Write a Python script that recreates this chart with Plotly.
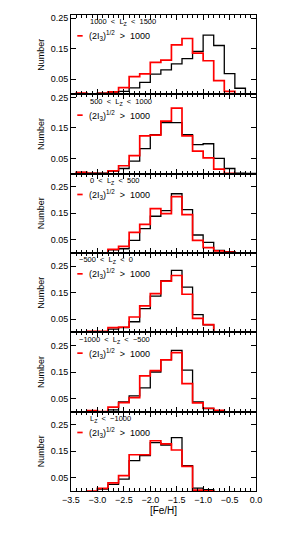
import plotly.graph_objects as go
from plotly.subplots import make_subplots

# [Fe/H] bin centres (bin width 0.2 dex)
feh_centers = [-3.3, -3.1, -2.9, -2.7, -2.5, -2.3, -2.1, -1.9, -1.7, -1.5,
               -1.3, -1.1, -0.9, -0.7, -0.5, -0.3, -0.1]
bin_width = 0.2

panel_labels = [
    "1000\u00a0\u00a0<\u00a0\u00a0L<sub>Z</sub>\u00a0\u00a0<\u00a0\u00a01500",
    "500\u00a0\u00a0<\u00a0\u00a0L<sub>Z</sub>\u00a0\u00a0<\u00a0\u00a01000",
    "0\u00a0\u00a0<\u00a0\u00a0L<sub>Z</sub>\u00a0\u00a0<\u00a0\u00a0500",
    "\u2212500\u00a0\u00a0<\u00a0\u00a0L<sub>Z</sub>\u00a0\u00a0<\u00a0\u00a00",
    "\u22121000\u00a0\u00a0<\u00a0\u00a0L<sub>Z</sub>\u00a0\u00a0<\u00a0\u00a0\u2212500",
    "L<sub>Z</sub>\u00a0\u00a0<\u00a0\u00a0\u22121000",
]
red_label = "(2I<sub>3</sub>)<sup>1/2</sup>\u00a0\u00a0>\u00a0\u00a01000"

N = None
# black: all stars in the L_Z bin ; red: (2I3)^1/2 > 1000
black_1 = [N, N, 0.004, 0.007, 0.010, 0.021, 0.039, 0.066, 0.080, 0.100,
           0.117, 0.141, 0.194, 0.160, 0.068, 0.020, N]
red_1 = [0.004, 0.0, 0.003, 0.008, 0.022, 0.058, 0.067, 0.105, 0.112, 0.162,
         0.183, 0.135, 0.110, 0.045, 0.010, N, N]

black_2 = [0.004, 0.002, 0.002, 0.008, 0.017, 0.041, 0.082, 0.128, 0.167, 0.167,
           0.128, 0.095, 0.098, 0.050, 0.017, 0.002, 0.001]
red_2 = [0.004, 0.001, 0.0, 0.009, 0.026, 0.059, 0.124, 0.126, 0.172, 0.215,
         0.124, 0.074, 0.052, 0.015, 0.001, N, N]

black_3 = [N, N, N, 0.012, 0.016, 0.048, 0.092, 0.139, 0.160, 0.224,
           0.164, 0.068, 0.040, 0.010, 0.005, N, N]
red_3 = [N, N, N, 0.014, 0.025, 0.078, 0.108, 0.168, 0.149, 0.213,
         0.145, 0.048, 0.020, 0.008, 0.003, N, N]

black_4 = [0.002, 0.002, 0.003, 0.012, 0.018, 0.040, 0.090, 0.137, 0.195, 0.234,
           0.171, 0.067, 0.028, 0.003, 0.002, 0.002, N]
red_4 = [0.001, 0.004, 0.004, 0.018, 0.020, 0.058, 0.100, 0.146, 0.194, 0.215,
         0.144, 0.053, 0.029, 0.001, 0.002, 0.002, N]

black_5 = [N, N, N, 0.007, 0.037, 0.060, 0.090, 0.150, 0.197, 0.232,
           0.157, 0.037, 0.012, N, N, N, N]
red_5 = [N, 0.004, 0.0, 0.017, 0.034, 0.053, 0.135, 0.155, 0.196, 0.223,
         0.106, 0.033, 0.013, 0.005, N, N, N]

black_6 = [N, N, 0.0075, 0.025, 0.045, 0.115, 0.134, 0.183, 0.174, 0.202,
           0.096, 0.011, 0.005, N, N, N, N]
red_6 = [N, 0.0, 0.010, 0.031, 0.058, 0.137, 0.137, 0.190, 0.178, 0.155,
         0.093, 0.003, 0.001, N, N, N, N]

black_series = [black_1, black_2, black_3, black_4, black_5, black_6]
red_series = [red_1, red_2, red_3, red_4, red_5, red_6]
y_tops = [0.26, 0.26, 0.30, 0.30, 0.30, 0.30]
label_x = [0.092, 0.092, 0.092, 0.032, 0.032, 0.092]


def step_xy(vals):
    xs, ys = [], []
    i = 0
    n = len(vals)
    while i < n:
        if vals[i] is None:
            i += 1
            continue
        j = i
        lo = feh_centers[i] - bin_width / 2
        xs.append(lo); ys.append(0.0)
        while j < n and vals[j] is not None:
            xs.append(feh_centers[j] - bin_width / 2); ys.append(vals[j])
            j += 1
        hi = feh_centers[j - 1] + bin_width / 2
        xs.append(hi); ys.append(vals[j - 1])
        xs.append(hi); ys.append(0.0)
        xs.append(None); ys.append(None)
        i = j
    return xs, ys


FONT = "Liberation Sans, Arial, sans-serif"
fig = make_subplots(rows=6, cols=1, shared_xaxes=True, vertical_spacing=0)

for k in range(6):
    r = k + 1
    bx, by = step_xy(black_series[k])
    rx, ry = step_xy(red_series[k])
    fig.add_trace(go.Scatter(x=bx, y=by, mode="lines", line_shape="hv",
                             line=dict(color="black", width=1.3),
                             showlegend=False, hoverinfo="skip"), row=r, col=1)
    fig.add_trace(go.Scatter(x=rx, y=ry, mode="lines", line_shape="hv",
                             line=dict(color="#ff0000", width=1.7),
                             showlegend=False, hoverinfo="skip"), row=r, col=1)
    yref = "y domain" if r == 1 else f"y{r} domain"
    xref = "x domain" if r == 1 else f"x{r} domain"
    fig.add_annotation(x=label_x[k], y=1 - 7.5 / 80, xref=xref, yref=yref,
                       text=panel_labels[k], showarrow=False, xanchor="left",
                       yanchor="middle", font=dict(family=FONT, size=7.5, color="black"))
    fig.add_annotation(x=0.088, y=1 - 21 / 80, xref=xref, yref=yref,
                       text=red_label, showarrow=False, xanchor="left",
                       yanchor="middle", font=dict(family=FONT, size=9, color="black"))
    fig.add_shape(type="line", xref=xref, yref=yref, x0=0.034, x1=0.063,
                  y0=1 - 21 / 80, y1=1 - 21 / 80,
                  line=dict(color="#ff0000", width=1.7))
    fig.update_yaxes(row=r, col=1, range=[0, y_tops[k]],
                     tickvals=[0.05, 0.15, 0.25], ticktext=["0.05", "0.15", "0.25"],
                     ticks="inside", ticklen=5, tickwidth=1, tickcolor="black",
                     showline=True, linecolor="black", linewidth=1, mirror="ticks",
                     showgrid=False, zeroline=False,
                     tickfont=dict(family=FONT, size=9, color="black"),
                     title=dict(text="Number", standoff=4,
                                font=dict(family=FONT, size=9, color="black")))
    fig.update_xaxes(row=r, col=1, range=[-3.5, 0], tick0=-3.5, dtick=0.5,
                     ticks="inside", ticklen=5, tickwidth=1, tickcolor="black",
                     minor=dict(dtick=0.1, ticklen=3, ticks="inside", tickcolor="black"),
                     showline=True, linecolor="black", linewidth=1, mirror="ticks",
                     showgrid=False, zeroline=False, tickformat=".1f",
                     tickfont=dict(family=FONT, size=9, color="black"))

fig.update_xaxes(row=6, col=1, title=dict(text="[Fe/H]", standoff=2,
                                          font=dict(family=FONT, size=10, color="black")))

# page body has an 8px margin: shift and shrink so the plot area lands where the reference's does
fig.update_layout(width=284, height=534, margin=dict(l=63, r=36, t=5, b=51),
                  paper_bgcolor="white", plot_bgcolor="white", showlegend=False)

fig.write_html("out.html")
